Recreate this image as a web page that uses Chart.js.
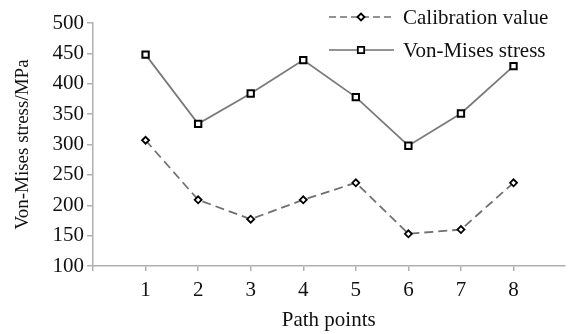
<!DOCTYPE html>
<html>
<head>
<meta charset="utf-8">
<script src="https://cdn.jsdelivr.net/npm/chart.js@4"></script>
<style>
html,body{margin:0;padding:0;background:#fff;}
#wrap{width:571px;height:334px;}
</style>
</head>
<body>
<div id="wrap"><canvas id="c" width="571" height="334"></canvas></div>
<script>
const pathPoints = [1, 2, 3, 4, 5, 6, 7, 8];
const calibrationValue = [307, 209, 177, 209, 237, 153, 160, 237];
const vonMisesStress = [448, 334, 384, 439, 378, 298, 351, 429];
const yTicks = [100, 150, 200, 250, 300, 350, 400, 450, 500];
const seriesNames = ['Calibration value', 'Von-Mises stress'];

const FONT = "'Liberation Serif', 'Times New Roman', serif";
const axisColor = '#b0b0b0';

const legendPlugin = {
  id: 'innerLegend',
  afterDraw(chart) {
    const ctx = chart.ctx;
    ctx.save();
    const rows = [
      {y: 17, dash: [7, 4], style: 'rectRot', r: 3.5, name: seriesNames[0]},
      {y: 50, dash: [], style: 'rect', r: 4.5, name: seriesNames[1]}
    ];
    rows.forEach(row => {
      ctx.strokeStyle = '#707070';
      ctx.lineWidth = 1.6;
      ctx.setLineDash(row.dash);
      ctx.beginPath();
      ctx.moveTo(329, row.y);
      ctx.lineTo(394, row.y);
      ctx.stroke();
      ctx.setLineDash([]);
      ctx.fillStyle = '#fff';
      ctx.strokeStyle = '#000';
      ctx.lineWidth = 1.8;
      Chart.helpers.drawPoint(ctx, {pointStyle: row.style, radius: row.r, borderWidth: 1.8}, 361, row.y);
      ctx.fillStyle = '#111';
      ctx.font = '21px ' + FONT;
      ctx.textBaseline = 'middle';
      ctx.textAlign = 'left';
      ctx.fillText(row.name, 403, row.y + 1);
    });
    ctx.restore();
  }
};

const toXY = (vals) => vals.map((v, i) => ({x: pathPoints[i], y: v}));

new Chart(document.getElementById('c'), {
  type: 'line',
  data: {
    datasets: [
      {
        label: seriesNames[0],
        data: toXY(calibrationValue),
        borderColor: '#707070',
        borderWidth: 1.8,
        borderDash: [9, 5],
        pointStyle: 'rectRot',
        pointRadius: 3.5,
        pointBorderColor: '#000',
        pointBackgroundColor: '#fff',
        pointBorderWidth: 1.8,
        tension: 0
      },
      {
        label: seriesNames[1],
        data: toXY(vonMisesStress),
        borderColor: '#7a7a7a',
        borderWidth: 1.8,
        pointStyle: 'rect',
        pointRadius: 4.5,
        pointBorderColor: '#000',
        pointBackgroundColor: '#fff',
        pointBorderWidth: 2,
        tension: 0
      }
    ]
  },
  options: {
    responsive: false,
    animation: false,
    devicePixelRatio: 1,
    layout: {padding: {top: 23, right: 0, left: 0, bottom: 0}},
    plugins: {legend: {display: false}, tooltip: {enabled: false}},
    scales: {
      x: {
        type: 'linear',
        min: 0,
        max: 8.97,
        afterBuildTicks: (s) => { s.ticks = [0, ...pathPoints].map(v => ({value: v})); },
        afterFit: (s) => { s.height = 68; },
        grid: {display: true, drawOnChartArea: false, drawTicks: true, tickLength: 5, color: axisColor, lineWidth: 1.5},
        border: {display: true, color: axisColor, width: 1.5},
        ticks: {
          callback: (v) => v === 0 ? '' : String(v),
          color: '#111',
          font: {family: FONT, size: 21},
          padding: 7,
          maxRotation: 0,
          autoSkip: false
        },
        title: {display: true, text: 'Path points', color: '#111', font: {family: FONT, size: 21}, padding: {top: 4, bottom: 1}}
      },
      y: {
        min: 100,
        max: 500,
        afterBuildTicks: (s) => { s.ticks = yTicks.map(v => ({value: v})); },
        afterFit: (s) => { s.width = 93; },
        grid: {display: true, drawOnChartArea: false, drawTicks: true, tickLength: 6, color: axisColor, lineWidth: 1.5},
        border: {display: true, color: axisColor, width: 1.5},
        ticks: {
          color: '#111',
          font: {family: FONT, size: 21},
          padding: 3
        },
        title: {display: true, text: 'Von-Mises stress/MPa', color: '#111', font: {family: FONT, size: 19}, padding: {top: 12, bottom: 4}}
      }
    }
  },
  plugins: [legendPlugin]
});
</script>
</body>
</html>
